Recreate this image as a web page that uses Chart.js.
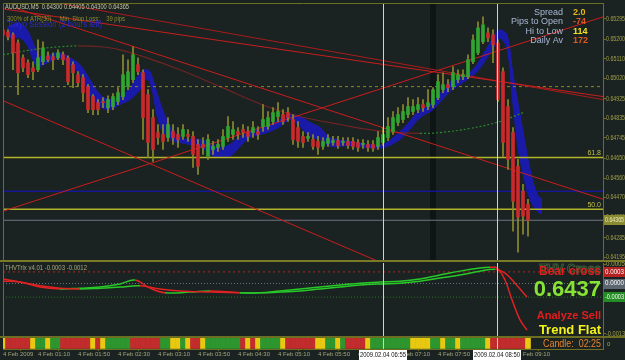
<!DOCTYPE html>
<html>
<head>
<meta charset="utf-8">
<script src="https://cdn.jsdelivr.net/npm/chart.js@4.4.1/dist/chart.umd.min.js"></script>
<style>
  body { margin: 0; background: #1b2222; width: 625px; height: 360px; overflow: hidden; position: relative; }
  canvas { position: absolute; left: 0; }
</style>
</head>
<body>
<canvas id="mainChart" width="625" height="262" style="top:0"></canvas>
<canvas id="trixChart" width="625" height="76" style="top:262px"></canvas>
<canvas id="stripChart" width="625" height="23" style="top:337px"></canvas>
<script>
// ---- data (AUDUSD M5, 4 Feb 2009) ----
// bar times are minutes after midnight, one bar every 5 minutes from 00:35
const barStart = 35, barStep = 5;

const openPrices = [0.65244,0.65235,0.65221,0.65184,0.65115,0.65092,0.65069,0.65060,0.65097,0.65124,
  0.65120,0.65115,0.65129,0.65115,0.65083,0.65037,0.65023,0.64982,0.64936,0.64908,
  0.64913,0.64885,0.64890,0.64913,0.64936,0.64982,0.65014,0.65083,0.65046,0.64945,
  0.64839,0.64770,0.64761,0.64747,0.64775,0.64761,0.64752,0.64761,0.64752,0.64715,
  0.64715,0.64660,0.64692,0.64701,0.64706,0.64747,0.64761,0.64775,0.64784,0.64775,
  0.64770,0.64775,0.64798,0.64798,0.64821,0.64844,0.64853,0.64862,0.64830,0.64793,
  0.64752,0.64743,0.64738,0.64729,0.64706,0.64720,0.64724,0.64733,0.64724,0.64729,
  0.64729,0.64724,0.64715,0.64715,0.64715,0.64706,0.64724,0.64747,0.64775,0.64816,
  0.64830,0.64853,0.64867,0.64876,0.64899,0.64890,0.64899,0.64931,0.64968,0.64991,
  0.64982,0.65014,0.65028,0.65028,0.65097,0.65138,0.65189,0.65230,0.65221,0.65184,
  0.65051,0.64890,0.64770,0.64614,0.64499,0.64439];
const highPrices = [0.65258,0.65244,0.65230,0.65198,0.65129,0.65106,0.65097,0.65198,0.65189,0.65143,
  0.65138,0.65152,0.65143,0.65124,0.65097,0.65051,0.65037,0.64991,0.64945,0.64922,
  0.64931,0.64940,0.64950,0.64977,0.65129,0.65106,0.65166,0.65115,0.65060,0.64968,
  0.64876,0.64807,0.64807,0.64839,0.64807,0.64793,0.64807,0.64784,0.64775,0.64738,
  0.64747,0.64761,0.64729,0.64738,0.64784,0.64844,0.64821,0.64793,0.64807,0.64798,
  0.64821,0.64798,0.64899,0.64867,0.64885,0.64908,0.64876,0.64885,0.64853,0.64821,
  0.64775,0.64770,0.64761,0.64752,0.64747,0.64761,0.64752,0.64752,0.64747,0.64747,
  0.64747,0.64738,0.64738,0.64733,0.64733,0.64775,0.64793,0.64839,0.64867,0.64885,
  0.64899,0.64931,0.64922,0.64931,0.64922,0.64968,0.64977,0.65037,0.65046,0.65014,
  0.65074,0.65060,0.65060,0.65129,0.65221,0.65281,0.65304,0.65253,0.65244,0.65198,
  0.65069,0.64922,0.64793,0.64646,0.64531,0.64462];
const lowPrices = [0.65175,0.65198,0.65060,0.64945,0.65051,0.65023,0.65014,0.65051,0.65083,0.65097,
  0.65060,0.65106,0.65083,0.64991,0.64977,0.64982,0.64913,0.64862,0.64853,0.64853,
  0.64885,0.64862,0.64876,0.64899,0.64922,0.64968,0.65000,0.65037,0.64738,0.64655,
  0.64637,0.64715,0.64692,0.64729,0.64715,0.64701,0.64738,0.64729,0.64609,0.64577,
  0.64669,0.64646,0.64669,0.64683,0.64692,0.64729,0.64738,0.64738,0.64747,0.64729,
  0.64747,0.64738,0.64775,0.64784,0.64807,0.64821,0.64807,0.64821,0.64715,0.64701,
  0.64701,0.64729,0.64692,0.64669,0.64692,0.64706,0.64710,0.64697,0.64710,0.64697,
  0.64692,0.64683,0.64697,0.64683,0.64683,0.64692,0.64710,0.64733,0.64761,0.64802,
  0.64816,0.64839,0.64853,0.64862,0.64867,0.64876,0.64885,0.64922,0.64954,0.64959,
  0.64968,0.65000,0.65014,0.65019,0.65088,0.65129,0.65180,0.65189,0.65092,0.64913,
  0.64660,0.64600,0.64315,0.64218,0.64301,0.64292];
const closePrices = [0.65221,0.65212,0.65138,0.65046,0.65069,0.65037,0.65051,0.65115,0.65161,0.65106,
  0.65106,0.65138,0.65106,0.65005,0.65046,0.65000,0.64954,0.64876,0.64876,0.64876,
  0.64908,0.64922,0.64936,0.64954,0.65037,0.65051,0.65129,0.65051,0.64839,0.64724,
  0.64692,0.64747,0.64729,0.64807,0.64747,0.64738,0.64784,0.64752,0.64669,0.64614,
  0.64701,0.64738,0.64706,0.64715,0.64752,0.64798,0.64784,0.64761,0.64770,0.64752,
  0.64793,0.64761,0.64830,0.64839,0.64862,0.64867,0.64821,0.64839,0.64738,0.64729,
  0.64724,0.64752,0.64706,0.64701,0.64729,0.64743,0.64733,0.64710,0.64729,0.64710,
  0.64706,0.64701,0.64720,0.64701,0.64697,0.64747,0.64761,0.64798,0.64839,0.64853,
  0.64867,0.64890,0.64890,0.64899,0.64885,0.64908,0.64968,0.65005,0.64991,0.64977,
  0.65046,0.65037,0.65037,0.65106,0.65198,0.65253,0.65267,0.65207,0.65175,0.64922,
  0.64724,0.64646,0.64453,0.64379,0.64384,0.64365];

// blue ribbon (two shifted averages), minutes / prices
const ribbonTimes = [39,44,52,59,65,70,75,82,92,102,112,122,132,142,152,162,172,177,182,192,
  202,212,222,232,245,252,262,272,282,292,302,312,322,332,342,352,362,382,399,415,
  429,439,452,465,482,499,509,519,529,532,539,545,552,562,569,574];
const ribbonHigh = [0.65253,0.65267,0.65272,0.65244,0.65184,0.65129,0.65120,0.65129,0.65138,0.65115,
  0.65083,0.65014,0.64945,0.64922,0.64936,0.64977,0.65046,0.65060,0.65051,0.64908,
  0.64798,0.64747,0.64738,0.64738,0.64715,0.64701,0.64715,0.64752,0.64770,0.64793,
  0.64807,0.64830,0.64853,0.64844,0.64816,0.64793,0.64747,0.64729,0.64715,0.64715,
  0.64761,0.64807,0.64876,0.64908,0.65005,0.65037,0.65083,0.65161,0.65235,0.65244,
  0.65221,0.65037,0.64853,0.64600,0.64485,0.64462];
const ribbonLow = [0.65207,0.65207,0.65207,0.65175,0.65106,0.65069,0.65083,0.65097,0.65115,0.65083,
  0.65037,0.64945,0.64890,0.64876,0.64899,0.64922,0.64968,0.65014,0.65005,0.64798,
  0.64738,0.64724,0.64715,0.64706,0.64660,0.64655,0.64660,0.64706,0.64747,0.64761,
  0.64775,0.64798,0.64830,0.64798,0.64752,0.64738,0.64706,0.64710,0.64701,0.64701,
  0.64729,0.64770,0.64839,0.64876,0.64959,0.65014,0.65051,0.65115,0.65189,0.65207,
  0.65161,0.64899,0.64646,0.64462,0.64407,0.64393];

// slow moving average
const maTimes = [35,52,72,92,110,132,152,179,212,252,299,332,372,415,452,472,502,532,555];
const maPrices = [0.65129,0.65143,0.65157,0.65166,0.65170,0.65166,0.65152,0.65115,0.65060,0.64982,
  0.64890,0.64844,0.64807,0.64775,0.64766,0.64770,0.64789,0.64821,0.64862];

// trend lines: start / end
const trendStartTime = [35, 90, 47, 35, 35];
const trendStartPrice = [0.65341, 0.65368, 0.65345, 0.64407, 0.64917];
const trendEndTime = [635, 635, 635, 635, 635];
const trendEndPrice = [0.64936, 0.64922, 0.64462, 0.65304, 0.63731];

// horizontal levels
const fib618 = 0.64655, fib500 = 0.64416, blueLevel = 0.64499, bidPrice = 0.64365, dashLevel = 0.64982;
const crossTimes = [415, 529];          // 06:55 and 08:50
const crossLabels = ['2009.02.04 06:55', '2009.02.04 08:50'];
const shadeTime = 465;

const priceTicks = [0.65295,0.65200,0.65110,0.65020,0.64925,0.64835,0.64745,0.64650,0.64560,0.64470,0.64380,0.64285,0.64195];

// THVTrix sub window
const trixFastTimes = [35,52,72,92,112,132,152,167,182,197,222,242,272,292,312,332,352,372,392,412,
  432,452,472,492,512,522,529,537,544,552,559];
const trixFast = [0.00006,0.00004,-0.00009,-0.00014,-0.00012,-0.00009,-0.00001,0.00009,-0.00012,-0.00024,
  -0.00022,-0.00019,-0.00024,-0.00024,-0.00019,-0.00014,-0.00009,-0.00004,0.00001,0.00004,
  0.00006,0.00012,0.00022,0.00032,0.00040,0.00042,0.00040,0.00009,-0.00042,-0.00094,-0.00120];
const trixSlowTimes = [35,52,72,92,112,132,152,172,192,212,242,272,292,312,332,352,372,392,412,432,
  452,472,492,512,527,537,547,559];
const trixSlow = [0.00012,0.00004,-0.00006,-0.00012,-0.00014,-0.00012,-0.00009,-0.00006,-0.00014,-0.00019,
  -0.00022,-0.00024,-0.00024,-0.00022,-0.00019,-0.00014,-0.00009,-0.00004,-0.00001,0.00001,
  0.00006,0.00014,0.00022,0.00032,0.00037,0.00027,0.00001,-0.00035];
const trixTicks = [0.0005, -0.0013];
const trixUpper = 0.0003, trixLower = -0.00035;

// signal strip, one state per bar
const stripStates = ('YRRRRRYGGYGGRRRRRRYRYGGGGGRRRRRRGGYYGYRRYGGGGGGGRYRYGGGG' +
  'YRRRRRRYYGGYGRRRRYGGGGGGGGYYYYGGYGGYGGGGGYRRRRRRRY').split('');

// date axis
const dateTickTimes = [35,70,110,150,190,230,270,310,350,390,430,470,510,550];
const dateTickLabels = ['4 Feb 2009','4 Feb 01:10','4 Feb 01:50','4 Feb 02:30','4 Feb 03:10','4 Feb 03:50',
  '4 Feb 04:30','4 Feb 05:10','4 Feb 05:50','4 Feb 06:30','4 Feb 07:10','4 Feb 07:50','4 Feb 08:30','4 Feb 09:10'];

// ---- styling ----
const frameColor = '#6e6e22';
const axisText = '#a0a048';
const uiFont = '"Liberation Sans", Arial, sans-serif';
const bullColor = '#30a630', bearColor = '#cc2a2a', wickColor = '#8c8c2c';
const stripColors = { Y: '#e8c810', R: '#c22c2c', G: '#2e962e' };
const xMin = 35, xMax = 635;

Chart.defaults.font.family = uiFont;
Chart.defaults.animation = false;

const barTimes = openPrices.map((_, i) => barStart + i * barStep);
const candleColors = closePrices.map((c, i) => c >= openPrices[i] ? bullColor : bearColor);

function flatLine(price) {
  return [{ x: xMin, y: price }, { x: xMax, y: price }];
}
function upDown(up, down) {
  return ctx => ctx.p1.parsed.y >= ctx.p0.parsed.y ? up : down;
}
function rightAxis(extra) {
  return Object.assign({
    position: 'right',
    afterFit: s => { s.width = 22; s.paddingTop = 0; s.paddingBottom = 0; },
    grid: { drawOnChartArea: false, color: frameColor, tickLength: 3 },
    border: { color: frameColor },
    ticks: { display: false }
  }, extra);
}
function hiddenX() {
  return { type: 'linear', min: xMin, max: xMax, offset: false, display: false };
}
// axis labels drawn by hand so they can be squeezed into the narrow MT4 price column
function axisLabels(chart, values, digits) {
  const { ctx, scales } = chart;
  ctx.save();
  ctx.font = '7px ' + uiFont;
  ctx.fillStyle = axisText;
  ctx.textAlign = 'left';
  ctx.textBaseline = 'middle';
  values.forEach(v => ctx.fillText(v.toFixed(digits), 606, scales.y.getPixelForValue(v), 19));
  ctx.restore();
}
function drawCrossLines(chart) {
  const { ctx, chartArea, scales } = chart;
  ctx.save();
  ctx.strokeStyle = '#d0d0d0';
  ctx.lineWidth = 1;
  crossTimes.forEach(t => {
    const x = Math.round(scales.x.getPixelForValue(t)) + 0.5;
    ctx.beginPath();
    ctx.moveTo(x, chartArea.top);
    ctx.lineTo(x, chartArea.bottom);
    ctx.stroke();
  });
  ctx.restore();
}
function axisBox(ctx, y, fill, textColor, text) {
  ctx.fillStyle = fill;
  ctx.fillRect(604, Math.round(y) - 5, 21, 10);
  ctx.fillStyle = textColor;
  ctx.font = '7px ' + uiFont;
  ctx.textAlign = 'left';
  ctx.textBaseline = 'middle';
  ctx.fillText(text, 605, y, 19);
}

// ---- main price window ----
const trendData = trendStartTime.map((t, i) => [
  { x: t, y: trendStartPrice[i] }, { x: trendEndTime[i], y: trendEndPrice[i] }]);

const mainOverlay = {
  id: 'mainOverlay',
  beforeDatasetsDraw(chart) {
    const { ctx, chartArea, scales } = chart;
    const x = scales.x.getPixelForValue(shadeTime);
    ctx.save();
    ctx.fillStyle = '#0f1515';
    ctx.fillRect(x - 3, chartArea.top, 6, chartArea.bottom - chartArea.top);
    ctx.restore();
  },
  afterDraw(chart) {
    const { ctx, chartArea, scales } = chart;
    drawCrossLines(chart);
    axisLabels(chart, priceTicks, 5);
    ctx.save();
    // frame
    ctx.strokeStyle = frameColor;
    ctx.lineWidth = 1;
    ctx.beginPath();
    ctx.moveTo(chartArea.left + 0.5, chartArea.bottom);
    ctx.lineTo(chartArea.left + 0.5, chartArea.top + 0.5);
    ctx.lineTo(chartArea.right, chartArea.top + 0.5);
    ctx.stroke();
    ctx.fillStyle = '#7a7a26';
    ctx.fillRect(0, 260, 625, 2);

    ctx.textBaseline = 'middle';
    ctx.textAlign = 'left';
    ctx.font = '7px ' + uiFont;
    ctx.fillStyle = '#c4c4a4';
    ctx.fillText('AUDUSD,M5  0.64300 0.64405 0.64300 0.64365', 5, 7, 124);
    ctx.fillStyle = '#8f8f2c';
    ctx.fillText('300% of ATR(30)     Min. Stop Loss:    39 pips', 7, 19, 118);
    ctx.font = '9px ' + uiFont;
    ctx.fillStyle = '#2a2ad8';
    ctx.fillText('Tokyo Session (2 hours left)', 7, 25, 95);

    // info panel
    const infoLabels = ['Spread', 'Pips to Open', 'Hi to Low', 'Daily Av'];
    const infoValues = ['2.0', '-74', '114', '172'];
    const infoColors = ['#e8b818', '#e05a20', '#f0e020', '#e05a20'];
    const infoY = [13, 22, 32, 41];
    infoLabels.forEach((lab, i) => {
      ctx.font = '9px ' + uiFont;
      ctx.textAlign = 'right';
      ctx.fillStyle = '#a8b8d4';
      ctx.fillText(lab, 563, infoY[i]);
      ctx.font = 'bold 9px ' + uiFont;
      ctx.textAlign = 'left';
      ctx.fillStyle = infoColors[i];
      ctx.fillText(infoValues[i], 573, infoY[i]);
    });

    // fibo labels
    ctx.font = '7px ' + uiFont;
    ctx.textAlign = 'right';
    ctx.fillStyle = '#c0c044';
    ctx.fillText('61.8', 601, scales.y.getPixelForValue(fib618) - 4);
    ctx.fillText('50.0', 601, scales.y.getPixelForValue(fib500) - 4);

    axisBox(ctx, scales.y.getPixelForValue(bidPrice), '#8a8a30', '#e8e8c0', bidPrice.toFixed(5));
    ctx.restore();
  }
};

new Chart(document.getElementById('mainChart'), {
  type: 'bar',
  data: {
    datasets: [
      { type: 'bar', label: 'body', order: 1, grouped: false, barThickness: 3, minBarLength: 1,
        data: barTimes.map((t, i) => ({ x: t, y: [openPrices[i], closePrices[i]] })),
        backgroundColor: candleColors, borderWidth: 0 },
      { type: 'bar', label: 'wick', order: 2, grouped: false, barThickness: 1,
        data: barTimes.map((t, i) => ({ x: t, y: [lowPrices[i], highPrices[i]] })),
        backgroundColor: wickColor, borderWidth: 0 },
      ...trendData.map((d, i) => ({ type: 'line', label: 'trend' + i, order: 3, data: d,
        borderColor: i === 1 ? '#a81c1c' : '#c81e1e', borderWidth: 1, pointRadius: 0 })),
      { type: 'line', label: 'fib618', order: 4, data: flatLine(fib618), borderColor: '#b4b42a', borderWidth: 1.5, pointRadius: 0 },
      { type: 'line', label: 'fib500', order: 4, data: flatLine(fib500), borderColor: '#b4b42a', borderWidth: 1.5, pointRadius: 0 },
      { type: 'line', label: 'blue', order: 4, data: flatLine(blueLevel), borderColor: '#1414c8', borderWidth: 1, pointRadius: 0 },
      { type: 'line', label: 'bid', order: 4, data: flatLine(bidPrice), borderColor: '#6c7682', borderWidth: 1, pointRadius: 0 },
      { type: 'line', label: 'dash', order: 4, data: flatLine(dashLevel), borderColor: '#8a8a2a', borderWidth: 1,
        borderDash: [3, 3], pointRadius: 0 },
      { type: 'line', label: 'ma', order: 5, data: maTimes.map((t, i) => ({ x: t, y: maPrices[i] })),
        borderWidth: 1.2, pointRadius: 0, tension: 0.4,
        segment: { borderColor: upDown('#2a8a2a', '#702424'), borderDash: upDown([2, 2], []) } },
      { type: 'line', label: 'ribbonHigh', order: 6, data: ribbonTimes.map((t, i) => ({ x: t, y: ribbonHigh[i] })),
        borderColor: '#1c1cb0', backgroundColor: '#1a1aaa', borderWidth: 1, pointRadius: 0, tension: 0.35, fill: '+1' },
      { type: 'line', label: 'ribbonLow', order: 6, data: ribbonTimes.map((t, i) => ({ x: t, y: ribbonLow[i] })),
        borderColor: '#1c1cb0', borderWidth: 1, pointRadius: 0, tension: 0.35, fill: false }
    ]
  },
  options: {
    responsive: false, maintainAspectRatio: false, devicePixelRatio: 1, events: [],
    layout: { padding: { left: 3, top: 3, right: 0, bottom: 1 } },
    plugins: { legend: { display: false }, tooltip: { enabled: false } },
    scales: {
      x: hiddenX(),
      y: rightAxis({
        min: 0.64177, max: 0.65368,
        afterBuildTicks: s => { s.ticks = priceTicks.map(v => ({ value: v })); }
      })
    }
  },
  plugins: [mainOverlay]
});

// ---- THVTrix window ----
const trixOverlay = {
  id: 'trixOverlay',
  afterDraw(chart) {
    const { ctx, chartArea, scales } = chart;
    drawCrossLines(chart);
    axisLabels(chart, trixTicks, 4);
    ctx.save();
    ctx.strokeStyle = frameColor;
    ctx.beginPath();
    ctx.moveTo(chartArea.left + 0.5, chartArea.top);
    ctx.lineTo(chartArea.left + 0.5, chartArea.bottom);
    ctx.stroke();
    ctx.fillStyle = frameColor;
    ctx.fillRect(0, 74, 625, 2);

    ctx.textBaseline = 'middle';
    ctx.textAlign = 'left';
    ctx.font = '7px ' + uiFont;
    ctx.fillStyle = '#a8a878';
    ctx.fillText('THVTrix v4.01 -0.0003 -0.0012', 5, 6, 82);

    ctx.textAlign = 'right';
    ctx.font = 'bold 12px ' + uiFont;
    ctx.strokeStyle = '#3e5a36';
    ctx.lineWidth = 1;
    ctx.strokeText('THV Cross', 601, 8, 66);
    ctx.fillStyle = '#e41c1c';
    ctx.fillText('Bear cross', 601, 10, 66);
    ctx.font = 'bold 22px ' + uiFont;
    ctx.fillStyle = '#86e434';
    ctx.fillText('0.6437', 601, 28, 70);
    ctx.font = 'bold 11px ' + uiFont;
    ctx.fillStyle = '#e41c1c';
    ctx.fillText('Analyze Sell', 601, 54, 68);
    ctx.font = 'bold 13px ' + uiFont;
    ctx.fillStyle = '#f4f41c';
    ctx.fillText('Trend Flat', 601, 68, 64);

    axisBox(ctx, scales.y.getPixelForValue(trixUpper), '#b42222', '#ffffff', '0.0003');
    axisBox(ctx, scales.y.getPixelForValue(0), '#5c6670', '#ffffff', '0.0000');
    axisBox(ctx, scales.y.getPixelForValue(trixLower), '#238c23', '#ffffff', '-0.0003');
    ctx.restore();
  }
};

new Chart(document.getElementById('trixChart'), {
  type: 'line',
  data: {
    datasets: [
      { label: 'slow', data: trixSlowTimes.map((t, i) => ({ x: t, y: trixSlow[i] })),
        borderWidth: 1.5, pointRadius: 0, tension: 0.4,
        segment: { borderColor: upDown('#28c828', '#e02222') } },
      { label: 'fast', data: trixFastTimes.map((t, i) => ({ x: t, y: trixFast[i] })),
        borderWidth: 1.5, pointRadius: 0, tension: 0.4,
        segment: { borderColor: upDown('#28c828', '#e02222') } },
      { label: 'upper', data: flatLine(trixUpper), borderColor: '#b42222', borderWidth: 1, borderDash: [2, 3], pointRadius: 0 },
      { label: 'zero', data: flatLine(0), borderColor: '#6c747c', borderWidth: 1, borderDash: [1, 2], pointRadius: 0 },
      { label: 'lower', data: flatLine(trixLower), borderColor: '#237a23', borderWidth: 1, borderDash: [1, 2], pointRadius: 0 }
    ]
  },
  options: {
    responsive: false, maintainAspectRatio: false, devicePixelRatio: 1, events: [],
    layout: { padding: { left: 3, top: 1, right: 0, bottom: 1 } },
    plugins: { legend: { display: false }, tooltip: { enabled: false } },
    scales: {
      x: hiddenX(),
      y: rightAxis({
        min: -0.00138, max: 0.00053,
        afterBuildTicks: s => { s.ticks = trixTicks.map(v => ({ value: v })); }
      })
    }
  },
  plugins: [trixOverlay]
});

// ---- signal strip + date axis ----
const stripOverlay = {
  id: 'stripOverlay',
  afterDraw(chart) {
    const { ctx, chartArea, scales } = chart;
    drawCrossLines(chart);
    ctx.save();
    ctx.textBaseline = 'middle';
    ctx.font = '10px ' + uiFont;
    ctx.textAlign = 'right';
    ctx.fillStyle = '#e8842a';
    ctx.fillText('Candle:  02:25', 601, 7, 58);
    ctx.font = '6px ' + uiFont;
    ctx.textAlign = 'left';
    ctx.fillStyle = axisText;
    ctx.fillText('0', 607, 7);

    ctx.font = '6.5px ' + uiFont;
    crossTimes.forEach((t, i) => {
      const x = scales.x.getPixelForValue(t);
      ctx.fillStyle = '#ffffff';
      ctx.fillRect(x - 24, chartArea.bottom + 1, 48, 10);
      ctx.fillStyle = '#101010';
      ctx.textAlign = 'center';
      ctx.fillText(crossLabels[i], x, chartArea.bottom + 6, 46);
    });
    ctx.restore();
  }
};

new Chart(document.getElementById('stripChart'), {
  type: 'bar',
  data: {
    datasets: [{
      label: 'strip', grouped: false, barThickness: 5,
      data: barTimes.map(t => ({ x: t, y: [0, 1] })),
      backgroundColor: stripStates.map(s => stripColors[s]), borderWidth: 0
    }]
  },
  options: {
    responsive: false, maintainAspectRatio: false, devicePixelRatio: 1, events: [],
    layout: { padding: { left: 3, top: 1, right: 0, bottom: 0 } },
    plugins: { legend: { display: false }, tooltip: { enabled: false } },
    scales: {
      x: {
        type: 'linear', min: xMin, max: xMax, offset: false, position: 'bottom',
        afterFit: s => { s.height = 11; },
        afterBuildTicks: s => { s.ticks = dateTickTimes.map(v => ({ value: v })); },
        grid: { drawOnChartArea: false, color: frameColor, tickLength: 2 },
        border: { color: frameColor },
        ticks: { color: '#a4a47c', font: { size: 6 }, padding: 0, align: 'start', maxRotation: 0,
          autoSkip: false, callback: v => dateTickLabels[dateTickTimes.indexOf(v)] }
      },
      y: rightAxis({
        min: 0, max: 1,
        grid: { drawOnChartArea: false, drawTicks: false, color: frameColor }
      })
    }
  },
  plugins: [stripOverlay]
});
</script>
</body>
</html>
